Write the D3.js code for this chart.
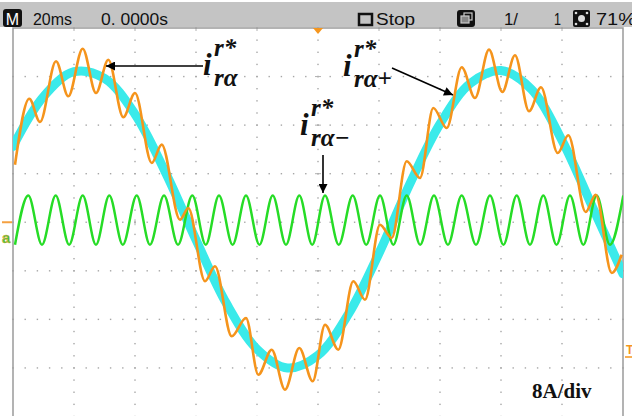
<!DOCTYPE html>
<html><head><meta charset="utf-8">
<script src="https://cdn.jsdelivr.net/npm/d3@7"></script>
<style>html,body{margin:0;padding:0;background:#fff;overflow:hidden}</style>
</head><body><svg id="c" width="632" height="416"></svg>
<script>
// ---- data (time in ms, current in A; 20 ms/div, 8 A/div) ----
const timeDomain = [0, 200];
const ampDomain = [-32, 32];
const timeMajor = [20, 40, 60, 80, 100, 120, 140, 160, 180];
const ampMajor = [-24, -16, -8, 0, 8, 16, 24];

// i_ra+ (cyan fundamental), sampled every 10 ms
const cyanT = [0,10,20,30,40,50,60,70,80,90,100,110,120,130,140,150,160,170,180,190,200];
const cyanA = [12.5,20.7,24.8,23.7,17.8,8.2,-2.9,-13.4,-20.9,-24.0,-21.9,-15.1,-5.1,6.2,16.2,22.9,25.0,21.9,13.5,2.5,-8.5];

// i_ra- (green), extrema
const greenT = [0.66,5.02,9.5,14.0,18.4,22.85,27.2,31.57,36.0,40.56,44.9,49.51,54.1,58.79,63.2,67.54,72.0,76.39,80.8,85.15,89.5,93.87,98.1,102.3,106.8,111.38,115.8,120.33,124.7,129.08,133.5,138.03,142.6,147.11,151.8,156.39,160.8,165.15,169.5,173.87,178.2,182.62,187.0,191.38,195.7,200.1];
const greenA = [-3.7,4.4,-3.7,4.4,-3.7,4.4,-3.7,4.4,-3.7,4.4,-3.7,4.4,-3.7,4.4,-3.7,4.4,-3.7,4.4,-3.7,4.4,-3.7,4.4,-3.7,4.4,-3.7,4.4,-3.7,4.4,-3.7,4.4,-3.7,4.4,-3.7,4.4,-3.7,4.4,-3.7,4.4,-3.7,4.4,-3.7,4.4,-3.7,4.4,-3.7,4.4];

// i_ra (orange), extrema
const orangeT = [0.66,5.34,8.85,14.10,18.13,22.85,27.21,31.25,36.16,40.0,45.48,48.75,54.75,57.48,62.95,66.23,71.70,76.39,80.43,84.82,89.18,93.87,98.26,102.30,106.66,111.57,115.41,120.33,124.16,129.08,133.44,137.80,142.20,147.11,151.48,156.07,160.43,164.59,169.18,173.11,178.59,182.07,187.77,191.05,196.30,199.57];
const orangeA = [9.48,20.35,16.52,26.52,20.75,28.59,21.29,26.78,17.29,21.29,9.76,12.78,0.42,2.35,-9.73,-7.26,-18.79,-15.77,-25.12,-21.0,-27.59,-20.72,-26.2,-16.88,-21.0,-9.73,-12.76,-0.40,-2.59,10.04,7.29,18.82,15.53,25.53,20.47,28.43,21.46,27.50,18.28,22.23,11.41,14.32,1.69,4.54,-8.36,-5.35];

const statusLeft = ["20ms", "0. 0000s"];
const statusRight = ["Stop", "1/", "1", "71%"];
const scaleLabel = "8A/div";

// ---- drawing ----
const svg = d3.select("#c");
const X0 = 13, X1 = 623, Y0 = 28, Y1 = 416.5;
const x = d3.scaleLinear().domain(timeDomain).range([X0, X1]);
const y = d3.scaleLinear().domain(ampDomain).range([Y1, Y0]);

svg.append("rect").attr("width", 632).attr("height", 416).attr("fill", "#fff");

const defs = svg.append("defs");
defs.append("clipPath").attr("id", "clip").append("rect")
  .attr("x", X0).attr("y", Y0).attr("width", X1 - X0).attr("height", Y1 - Y0);
defs.append("marker").attr("id", "ah").attr("viewBox", "0 0 10 10")
  .attr("refX", 10).attr("refY", 5).attr("markerWidth", 12).attr("markerHeight", 9)
  .attr("markerUnits", "userSpaceOnUse").attr("orient", "auto")
  .append("path").attr("d", "M0,0L10,5L0,10z").attr("fill", "#000");

// grid dots
const g = svg.append("g");
const dotC = "#a6a6a6";
timeMajor.forEach(t => {
  d3.range(ampDomain[0], ampDomain[1] + 0.01, 2).forEach(a => {
    g.append("rect").attr("x", x(t) - 0.7).attr("y", y(a) - 0.7).attr("width", 1.4).attr("height", 1.4).attr("fill", dotC);
  });
});
ampMajor.forEach(a => {
  d3.range(timeDomain[0], timeDomain[1] + 0.01, 4).forEach(t => {
    g.append("rect").attr("x", x(t) - 0.7).attr("y", y(a) - 0.7).attr("width", 1.4).attr("height", 1.4).attr("fill", dotC);
  });
});
// center ticks
ampMajor.forEach(a => {
  g.append("line").attr("x1", x(100) - 3).attr("x2", x(100) + 3).attr("y1", y(a)).attr("y2", y(a)).attr("stroke", "#b0b0b0").attr("stroke-width", 1);
});
timeMajor.forEach(t => {
  g.append("line").attr("x1", x(t)).attr("x2", x(t)).attr("y1", y(0) - 3).attr("y2", y(0) + 3).attr("stroke", "#b0b0b0").attr("stroke-width", 1);
  g.append("line").attr("x1", x(t)).attr("x2", x(t)).attr("y1", Y0).attr("y2", Y0 + 3).attr("stroke", "#b0b0b0").attr("stroke-width", 1);
});

// frame
svg.append("path").attr("d", `M${X0},${Y1 + 2}V${Y0}H${X1}V${Y1 + 2}`)
  .attr("fill", "none").attr("stroke", "#9a9a9a").attr("stroke-width", 1.5);

// traces
const traces = svg.append("g").attr("clip-path", "url(#clip)");
const mk = (T, A) => T.map((t, i) => [t, A[i]]);
traces.append("path").datum(mk(cyanT, cyanA))
  .attr("d", d3.line().x(d => x(d[0])).y(d => y(d[1])).curve(d3.curveCatmullRom))
  .attr("fill", "none").attr("stroke", "#3aeaea").attr("stroke-width", 9).attr("stroke-linecap", "round");
traces.append("path").datum(mk(greenT, greenA))
  .attr("d", d3.line().x(d => x(d[0])).y(d => y(d[1])).curve(d3.curveMonotoneX))
  .attr("fill", "none").attr("stroke", "#26dc26").attr("stroke-width", 2.5);
traces.append("path").datum(mk(orangeT, orangeA))
  .attr("d", d3.line().x(d => x(d[0])).y(d => y(d[1])).curve(d3.curveMonotoneX))
  .attr("fill", "none").attr("stroke", "#f5941c").attr("stroke-width", 2.6);

// top status bar
svg.append("rect").attr("x", 0).attr("y", 2).attr("width", 632).attr("height", 25).attr("fill", "#c4c4c4");
svg.append("rect").attr("x", 3).attr("y", 9).attr("width", 19).attr("height", 18).attr("rx", 3).attr("fill", "#111");
svg.append("text").attr("x", 12.5).attr("y", 25).attr("text-anchor", "middle").attr("fill", "#fff")
  .attr("font-family", "Liberation Sans, Arial, sans-serif").attr("font-size", 16).text("M");
const sb = { "font-family": "Liberation Sans, Arial, sans-serif", "font-size": 16, fill: "#111" };
function st(txt, xx, w) {
  const t = svg.append("text").attr("x", xx).attr("y", 25).text(txt);
  Object.entries(sb).forEach(([k, v]) => t.attr(k, v));
  if (w) t.attr("textLength", w).attr("lengthAdjust", "spacingAndGlyphs");
  return t;
}
st(statusLeft[0], 33, 39);
st(statusLeft[1], 101, 67);
svg.append("rect").attr("x", 359).attr("y", 14).attr("width", 13).attr("height", 11).attr("fill", "none").attr("stroke", "#111").attr("stroke-width", 2.5);
st(statusRight[0], 376, 39);
// stacked squares icon
svg.append("rect").attr("x", 457).attr("y", 10).attr("width", 18).attr("height", 17).attr("rx", 3).attr("fill", "#111");
svg.append("rect").attr("x", 464).attr("y", 13).attr("width", 8).attr("height", 7).attr("fill", "none").attr("stroke", "#ccc").attr("stroke-width", 1.2);
svg.append("rect").attr("x", 461).attr("y", 16).attr("width", 8).attr("height", 7).attr("fill", "#888").attr("stroke", "#ccc").attr("stroke-width", 1.2);
st(statusRight[1], 504, 14);
st(statusRight[2], 554, 7);
// sun icon
svg.append("rect").attr("x", 573).attr("y", 10).attr("width", 17).attr("height", 17).attr("rx", 2).attr("fill", "#111");
svg.append("circle").attr("cx", 581.5).attr("cy", 18.5).attr("r", 3.5).attr("fill", "#ddd");
[[576,13],[587,13],[576,24],[587,24]].forEach(p => svg.append("circle").attr("cx", p[0]).attr("cy", p[1]).attr("r", 1.3).attr("fill", "#ddd"));
st(statusRight[3], 596, 40);

// trigger markers
svg.append("path").attr("d", "M313,28L323,28L318,34z").attr("fill", "#f5961e");
svg.append("line").attr("x1", 2).attr("x2", 12).attr("y1", y(0)).attr("y2", y(0)).attr("stroke", "#f5a040").attr("stroke-width", 2);
svg.append("text").attr("x", 2).attr("y", 243).attr("font-family", "Liberation Sans, Arial, sans-serif").attr("font-weight", "bold")
  .attr("font-size", 15).attr("fill", "#3cc83c").attr("stroke", "#e0a030").attr("stroke-width", 0.5).text("a");
svg.append("text").attr("x", 626).attr("y", 354).attr("font-family", "Liberation Sans, Arial, sans-serif").attr("font-weight", "bold")
  .attr("font-size", 12).attr("fill", "#f5961e").text("T");
svg.append("line").attr("x1", 625).attr("x2", 632).attr("y1", 357).attr("y2", 357).attr("stroke", "#f5961e").attr("stroke-width", 1.5);

// annotations
const serif = "Liberation Serif, Times New Roman, serif";
function label(xi, yi, sub) {
  const a = svg.append("g").attr("font-family", serif).attr("font-weight", "bold").attr("font-style", "italic").attr("fill", "#111");
  a.append("text").attr("x", xi).attr("y", yi).attr("font-size", 31).text("i");
  a.append("text").attr("x", xi + 11).attr("y", yi - 19).attr("font-size", 25).text("r*");
  a.append("text").attr("x", xi + 11).attr("y", yi + 11).attr("font-size", 25).text(sub);
}
label(203, 75, "rα");
label(300, 135, "rα−");
label(343, 76, "rα+");

const arrow = (x1, y1, x2, y2) => svg.append("line").attr("x1", x1).attr("y1", y1).attr("x2", x2).attr("y2", y2)
  .attr("stroke", "#000").attr("stroke-width", 1.6).attr("marker-end", "url(#ah)");
arrow(203, 66, 106, 66);
arrow(323, 155, 323, 193);
arrow(392, 68, 453, 95);

svg.append("text").attr("x", 532).attr("y", 398).attr("font-family", serif).attr("font-weight", "bold")
  .attr("font-size", 21).attr("fill", "#111").text(scaleLabel);
</script></body></html>
